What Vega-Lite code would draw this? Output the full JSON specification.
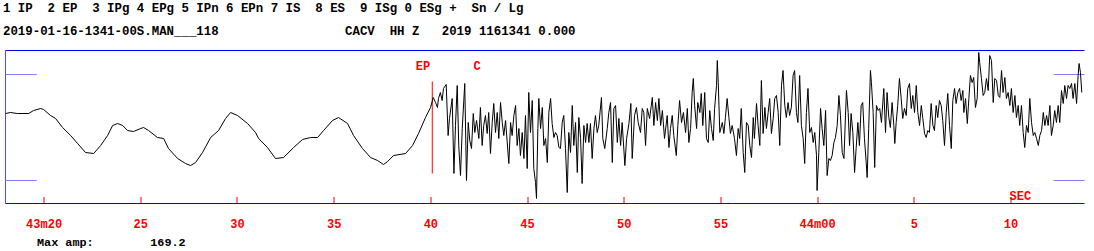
{
 "$schema": "https://vega.github.io/schema/vega-lite/v6.json",
 "width": 1079,
 "height": 153,
 "autosize": {"type": "none"},
 "padding": {"left": 5.5, "top": 50.5, "right": 9.5, "bottom": 47.5},
 "background": "white",
 "view": {"stroke": null},
 "title": {
  "text": [
   "1\u00a0IP\u00a0\u00a02\u00a0EP\u00a0\u00a03\u00a0IPg\u00a04\u00a0EPg\u00a05\u00a0IPn\u00a06\u00a0EPn\u00a07\u00a0IS\u00a0\u00a08\u00a0ES\u00a0\u00a09\u00a0ISg\u00a00\u00a0ESg\u00a0+\u00a0\u00a0Sn\u00a0/\u00a0Lg",
   "2019-01-16-1341-00S.MAN___118\u00a0\u00a0\u00a0\u00a0\u00a0\u00a0\u00a0\u00a0\u00a0\u00a0\u00a0\u00a0\u00a0\u00a0\u00a0\u00a0\u00a0CACV\u00a0\u00a0HH\u00a0Z\u00a0\u00a0\u00a02019\u00a01161341\u00a00.000"
  ],
  "anchor": "start",
  "frame": "group",
  "font": "Liberation Mono",
  "fontSize": 12.4,
  "fontWeight": "bold",
  "color": "black",
  "lineHeight": 23,
  "offset": 13,
  "dx": -2.5
 },
 "datasets": {
  "trace": [
   {"t":18.04,"a":14},{"t":18.29,"a":15},{"t":18.64,"a":14},{"t":19.23,"a":14},{"t":19.48,"a":17},{"t":19.85,"a":19},{"t":20.00,"a":18},{"t":20.36,"a":12},{"t":20.62,"a":9},{"t":20.98,"a":0},{"t":21.40,"a":-8},{"t":21.76,"a":-16},{"t":22.17,"a":-25},{"t":22.59,"a":-26},{"t":22.95,"a":-18},{"t":23.31,"a":-8},{"t":23.57,"a":2},{"t":23.83,"a":4},{"t":24.09,"a":2},{"t":24.34,"a":-3},{"t":24.65,"a":-4},{"t":25.02,"a":-1},{"t":25.17,"a":0},{"t":25.43,"a":-3},{"t":25.89,"a":-10},{"t":26.21,"a":-11},{"t":26.46,"a":-21},{"t":26.93,"a":-31},{"t":27.34,"a":-36},{"t":27.60,"a":-38},{"t":27.86,"a":-35},{"t":28.22,"a":-25},{"t":28.64,"a":-10},{"t":29.05,"a":-3},{"t":29.41,"a":9},{"t":29.67,"a":15},{"t":30.03,"a":12},{"t":30.55,"a":4},{"t":30.96,"a":-5},{"t":31.12,"a":-11},{"t":31.58,"a":-20},{"t":31.99,"a":-31},{"t":32.41,"a":-30},{"t":32.93,"a":-20},{"t":33.39,"a":-12},{"t":33.81,"a":-10},{"t":34.17,"a":-10},{"t":34.48,"a":-3},{"t":34.94,"a":7},{"t":35.25,"a":10},{"t":35.72,"a":4},{"t":36.03,"a":-8},{"t":36.49,"a":-21},{"t":36.91,"a":-30},{"t":37.27,"a":-33},{"t":37.58,"a":-37},{"t":37.79,"a":-34},{"t":38.10,"a":-28},{"t":38.72,"a":-26},{"t":39.08,"a":-18},{"t":39.39,"a":-6},{"t":39.75,"a":10},{"t":40.01,"a":20},
   {"t":40.15,"a":30},{"t":40.27,"a":25},{"t":40.37,"a":20},{"t":40.42,"a":29},{"t":40.52,"a":35},{"t":40.61,"a":27},{"t":40.68,"a":39},{"t":40.82,"a":43},{"t":40.92,"a":-8},{"t":40.99,"a":9},{"t":41.13,"a":29},{"t":41.22,"a":-46},{"t":41.30,"a":2},{"t":41.39,"a":42},{"t":41.47,"a":-18},{"t":41.56,"a":-48},{"t":41.65,"a":-1},{"t":41.78,"a":44},{"t":41.87,"a":-53},{"t":41.96,"a":5},{"t":42.04,"a":-13},{"t":42.13,"a":-21},{"t":42.22,"a":14},{"t":42.30,"a":-5},{"t":42.39,"a":7},{"t":42.51,"a":-11},{"t":42.59,"a":20},{"t":42.68,"a":-18},{"t":42.76,"a":2},{"t":42.85,"a":12},{"t":42.94,"a":-6},{"t":43.02,"a":15},{"t":43.11,"a":-26},{"t":43.20,"a":5},{"t":43.28,"a":24},{"t":43.37,"a":-5},{"t":43.46,"a":15},{"t":43.54,"a":-11},{"t":43.63,"a":25},{"t":43.72,"a":5},{"t":43.80,"a":-8},{"t":43.89,"a":7},{"t":44.06,"a":-36},{"t":44.15,"a":5},{"t":44.23,"a":-8},{"t":44.32,"a":12},{"t":44.41,"a":22},{"t":44.49,"a":-18},{"t":44.58,"a":-1},{"t":44.66,"a":-28},{"t":44.75,"a":-5},{"t":44.84,"a":-31},{"t":44.92,"a":12},{"t":45.01,"a":-41},{"t":45.09,"a":35},{"t":45.18,"a":-5},{"t":45.27,"a":27},{"t":45.35,"a":-41},{"t":45.44,"a":-55},{"t":45.49,"a":-71},{"t":45.56,"a":-1},{"t":45.61,"a":29},{"t":45.70,"a":-1},{"t":45.79,"a":20},{"t":45.87,"a":-18},{"t":45.96,"a":-11},{"t":46.05,"a":-35},{"t":46.13,"a":15},{"t":46.22,"a":29},{"t":46.30,"a":4},{"t":46.39,"a":-10},{"t":46.47,"a":-5},{"t":46.56,"a":-8},{"t":46.65,"a":-20},{"t":46.73,"a":-21},{"t":46.82,"a":5},{"t":46.90,"a":12},{"t":46.99,"a":-21},{"t":47.08,"a":-65},{"t":47.16,"a":-5},{"t":47.25,"a":-25},{"t":47.34,"a":22},{"t":47.42,"a":-18},{"t":47.51,"a":5},{"t":47.60,"a":-45},{"t":47.68,"a":10},{"t":47.77,"a":-11},{"t":47.85,"a":-56},{"t":47.94,"a":2},{"t":48.03,"a":-15},{"t":48.11,"a":4},{"t":48.20,"a":-15},{"t":48.28,"a":4},{"t":48.37,"a":-31},{"t":48.46,"a":-1},{"t":48.54,"a":12},{"t":48.63,"a":-5},{"t":48.71,"a":2},{"t":48.85,"a":30},{"t":48.92,"a":-11},{"t":49.02,"a":-21},{"t":49.15,"a":-1},{"t":49.23,"a":15},{"t":49.32,"a":25},{"t":49.41,"a":-35},{"t":49.49,"a":19},{"t":49.58,"a":22},{"t":49.67,"a":-15},{"t":49.75,"a":9},{"t":49.84,"a":-18},{"t":49.92,"a":5},{"t":50.06,"a":-38},{"t":50.15,"a":-11},{"t":50.27,"a":4},{"t":50.37,"a":24},{"t":50.44,"a":-31},{"t":50.56,"a":12},{"t":50.66,"a":20},{"t":50.75,"a":5},{"t":50.87,"a":-5},{"t":50.96,"a":19},{"t":51.04,"a":15},{"t":51.13,"a":-18},{"t":51.22,"a":19},{"t":51.34,"a":9},{"t":51.48,"a":30},{"t":51.56,"a":2},{"t":51.65,"a":25},{"t":51.74,"a":7},{"t":51.82,"a":29},{"t":51.91,"a":2},{"t":52.00,"a":17},{"t":52.11,"a":-11},{"t":52.25,"a":12},{"t":52.34,"a":-20},{"t":52.42,"a":-1},{"t":52.51,"a":12},{"t":52.59,"a":-8},{"t":52.72,"a":-28},{"t":52.80,"a":2},{"t":52.89,"a":27},{"t":52.99,"a":5},{"t":53.09,"a":15},{"t":53.20,"a":-5},{"t":53.29,"a":19},{"t":53.37,"a":-15},{"t":53.46,"a":-1},{"t":53.54,"a":35},{"t":53.60,"a":49},{"t":53.67,"a":22},{"t":53.77,"a":-1},{"t":53.83,"a":25},{"t":53.94,"a":15},{"t":54.01,"a":34},{"t":54.09,"a":2},{"t":54.19,"a":35},{"t":54.28,"a":-11},{"t":54.37,"a":-15},{"t":54.45,"a":17},{"t":54.54,"a":-1},{"t":54.63,"a":-13},{"t":54.70,"a":19},{"t":54.80,"a":42},{"t":54.84,"a":67},{"t":54.89,"a":45},{"t":54.97,"a":-5},{"t":55.10,"a":5},{"t":55.18,"a":-6},{"t":55.26,"a":10},{"t":55.35,"a":29},{"t":55.44,"a":10},{"t":55.52,"a":-6},{"t":55.61,"a":2},{"t":55.73,"a":-11},{"t":55.83,"a":-28},{"t":55.92,"a":-1},{"t":56.00,"a":-11},{"t":56.08,"a":19},{"t":56.18,"a":-25},{"t":56.26,"a":-45},{"t":56.35,"a":5},{"t":56.44,"a":2},{"t":56.52,"a":-18},{"t":56.61,"a":-30},{"t":56.70,"a":10},{"t":56.76,"a":-11},{"t":56.87,"a":24},{"t":56.95,"a":2},{"t":57.04,"a":-18},{"t":57.12,"a":47},{"t":57.21,"a":-6},{"t":57.30,"a":20},{"t":57.38,"a":-1},{"t":57.47,"a":15},{"t":57.55,"a":29},{"t":57.64,"a":-6},{"t":57.73,"a":9},{"t":57.81,"a":29},{"t":57.90,"a":32},{"t":57.99,"a":15},{"t":58.07,"a":-18},{"t":58.16,"a":42},{"t":58.24,"a":57},{"t":58.33,"a":22},{"t":58.41,"a":10},{"t":58.50,"a":25},{"t":58.58,"a":12},{"t":58.67,"a":20},{"t":58.76,"a":52},{"t":58.84,"a":57},{"t":58.93,"a":15},{"t":59.01,"a":5},{"t":59.10,"a":52},{"t":59.19,"a":2},{"t":59.28,"a":-11},{"t":59.36,"a":-36},{"t":59.45,"a":15},{"t":59.53,"a":39},{"t":59.62,"a":-5},{"t":59.71,"a":0},{"t":59.80,"a":-15},{"t":59.88,"a":-5},{"t":59.97,"a":-28},{"t":60.00,"a":-63},{"t":60.09,"a":-25},{"t":60.18,"a":19},{"t":60.26,"a":-1},{"t":60.35,"a":-18},{"t":60.44,"a":17},{"t":60.52,"a":-48},{"t":60.61,"a":-31},{"t":60.69,"a":-33},{"t":60.78,"a":-28},{"t":60.87,"a":-15},{"t":60.95,"a":-10},{"t":61.04,"a":2},{"t":61.13,"a":32},{"t":61.21,"a":12},{"t":61.30,"a":-25},{"t":61.39,"a":-31},{"t":61.47,"a":12},{"t":61.52,"a":37},{"t":61.61,"a":15},{"t":61.68,"a":-18},{"t":61.76,"a":14},{"t":61.85,"a":-5},{"t":61.94,"a":-45},{"t":62.02,"a":-21},{"t":62.11,"a":5},{"t":62.19,"a":-18},{"t":62.28,"a":22},{"t":62.36,"a":25},{"t":62.45,"a":-11},{"t":62.54,"a":-35},{"t":62.59,"a":-50},{"t":62.67,"a":-1},{"t":62.76,"a":57},{"t":62.81,"a":45},{"t":62.90,"a":15},{"t":62.98,"a":-40},{"t":63.07,"a":22},{"t":63.16,"a":17},{"t":63.24,"a":19},{"t":63.33,"a":5},{"t":63.45,"a":39},{"t":63.54,"a":-5},{"t":63.62,"a":35},{"t":63.71,"a":10},{"t":63.79,"a":0},{"t":63.88,"a":25},{"t":63.97,"a":2},{"t":64.02,"a":-16},{"t":64.09,"a":5},{"t":64.17,"a":22},{"t":64.26,"a":49},{"t":64.35,"a":29},{"t":64.43,"a":9},{"t":64.52,"a":19},{"t":64.61,"a":12},{"t":64.69,"a":39},{"t":64.78,"a":44},{"t":64.87,"a":19},{"t":64.95,"a":32},{"t":65.04,"a":15},{"t":65.13,"a":42},{"t":65.21,"a":15},{"t":65.30,"a":2},{"t":65.39,"a":22},{"t":65.47,"a":9},{"t":65.56,"a":-6},{"t":65.64,"a":-10},{"t":65.73,"a":-3},{"t":65.81,"a":-5},{"t":65.90,"a":24},{"t":65.99,"a":2},{"t":66.07,"a":-3},{"t":66.16,"a":22},{"t":66.24,"a":10},{"t":66.33,"a":27},{"t":66.42,"a":22},{"t":66.50,"a":7},{"t":66.59,"a":-18},{"t":66.68,"a":15},{"t":66.76,"a":34},{"t":66.85,"a":2},{"t":66.94,"a":-21},{"t":67.02,"a":27},{"t":67.11,"a":39},{"t":67.19,"a":24},{"t":67.28,"a":35},{"t":67.37,"a":39},{"t":67.45,"a":27},{"t":67.54,"a":37},{"t":67.59,"a":15},{"t":67.68,"a":29},{"t":67.77,"a":4},{"t":67.85,"a":29},{"t":67.93,"a":52},{"t":68.02,"a":45},{"t":68.10,"a":50},{"t":68.19,"a":20},{"t":68.28,"a":29},{"t":68.36,"a":75},{"t":68.41,"a":65},{"t":68.50,"a":49},{"t":68.59,"a":32},{"t":68.67,"a":35},{"t":68.76,"a":49},{"t":68.85,"a":37},{"t":68.93,"a":72},{"t":69.02,"a":67},{"t":69.11,"a":25},{"t":69.19,"a":49},{"t":69.28,"a":47},{"t":69.37,"a":32},{"t":69.45,"a":30},{"t":69.54,"a":57},{"t":69.62,"a":35},{"t":69.71,"a":50},{"t":69.79,"a":29},{"t":69.88,"a":35},{"t":69.97,"a":22},{"t":70.05,"a":39},{"t":70.14,"a":15},{"t":70.23,"a":32},{"t":70.31,"a":10},{"t":70.40,"a":22},{"t":70.48,"a":2},{"t":70.57,"a":22},{"t":70.66,"a":-5},{"t":70.74,"a":-20},{"t":70.83,"a":2},{"t":70.92,"a":-5},{"t":71.00,"a":29},{"t":71.09,"a":5},{"t":71.18,"a":-8},{"t":71.26,"a":-5},{"t":71.35,"a":-11},{"t":71.44,"a":-18},{"t":71.52,"a":-8},{"t":71.61,"a":-3},{"t":71.70,"a":15},{"t":71.78,"a":2},{"t":71.87,"a":12},{"t":71.95,"a":2},{"t":72.04,"a":22},{"t":72.12,"a":-8},{"t":72.21,"a":2},{"t":72.29,"a":17},{"t":72.38,"a":5},{"t":72.47,"a":22},{"t":72.55,"a":5},{"t":72.64,"a":37},{"t":72.73,"a":24},{"t":72.81,"a":42},{"t":72.90,"a":29},{"t":72.98,"a":42},{"t":73.07,"a":39},{"t":73.16,"a":44},{"t":73.24,"a":29},{"t":73.33,"a":44},{"t":73.42,"a":24},{"t":73.50,"a":52},{"t":73.55,"a":64},{"t":73.62,"a":55},{"t":73.69,"a":35}
  ],
  "frame": [
   {"t":18.03,"t2":73.83,"a":77,"a2":77},
   {"t":18.03,"t2":73.83,"a":-76,"a2":-76}
  ],
  "leftedge": [
   {"t":18.03,"a":77,"a2":-76}
  ],
  "scalebars": [
   {"t":18.03,"t2":19.64,"a":53},{"t":18.03,"t2":19.64,"a":-53},
   {"t":72.23,"t2":73.83,"a":53},{"t":72.23,"t2":73.83,"a":-53}
  ],
  "pickline": [
   {"t":40.1,"a":46,"a2":-46}
  ],
  "picks": [
   {"t":39.62,"a":62,"label":"EP"},
   {"t":42.42,"a":62,"label":"C"},
   {"t":70.51,"a":-68,"label":"SEC"}
  ]
 },
 "encoding": {
  "x": {
   "field": "t", "type": "quantitative",
   "scale": {"domain": [18.03, 73.83], "nice": false, "zero": false},
   "axis": {
    "values": [20, 25, 30, 35, 40, 45, 50, 55, 60, 65, 70],
    "labelExpr": "datum.value == 20 ? '43m20' : datum.value == 60 ? '44m00' : datum.value > 60 ? format(datum.value - 60, 'd') : format(datum.value, 'd')",
    "grid": false,
    "domain": false,
    "ticks": true,
    "tickColor": "#ee0000",
    "tickSize": -7,
    "tickWidth": 1,
    "labelColor": "#ff0000",
    "labelFont": "Liberation Mono",
    "labelFontWeight": "bold",
    "labelFontSize": 12,
    "labelPadding": 22,
    "labelFlush": false,
    "labelOverlap": false,
    "title": "Max\u00a0amp:\u00a0\u00a0\u00a0\u00a0\u00a0\u00a0\u00a0\u00a0169.2",
    "titleX": 31,
    "titleY": 42,
    "titleAlign": "left",
    "titleAnchor": "start",
    "titleBaseline": "alphabetic",
    "titleFont": "Liberation Mono",
    "titleFontSize": 11.8,
    "titleFontWeight": "bold",
    "titleColor": "black"
   }
  },
  "y": {
   "field": "a", "type": "quantitative",
   "scale": {"domain": [-76, 77], "nice": false, "zero": false},
   "axis": null
  }
 },
 "layer": [
  {
   "data": {"name": "frame"},
   "mark": {"type": "rule", "color": "#0000ee", "strokeWidth": 1.2},
   "encoding": {
    "x2": {"field": "t2"},
    "y2": {"field": "a2"}
   }
  },
  {
   "data": {"name": "leftedge"},
   "mark": {"type": "rule", "color": "#4c4cff", "strokeWidth": 1},
   "encoding": {
    "y2": {"field": "a2"}
   }
  },
  {
   "data": {"name": "scalebars"},
   "mark": {"type": "rule", "color": "#7f7fff", "strokeWidth": 1},
   "encoding": {
    "x2": {"field": "t2"}
   }
  },
  {
   "data": {"name": "pickline"},
   "mark": {"type": "rule", "color": "#ff0000", "strokeWidth": 1},
   "encoding": {
    "y2": {"field": "a2"}
   }
  },
  {
   "data": {"name": "trace"},
   "mark": {"type": "line", "color": "black", "strokeWidth": 1, "interpolate": "linear"},
   "encoding": {}
  },
  {
   "data": {"name": "picks"},
   "mark": {"type": "text", "color": "#ff0000", "font": "Liberation Mono", "fontWeight": "bold", "fontSize": 12, "align": "center", "baseline": "middle"},
   "encoding": {
    "text": {"field": "label"}
   }
  }
 ]
}
